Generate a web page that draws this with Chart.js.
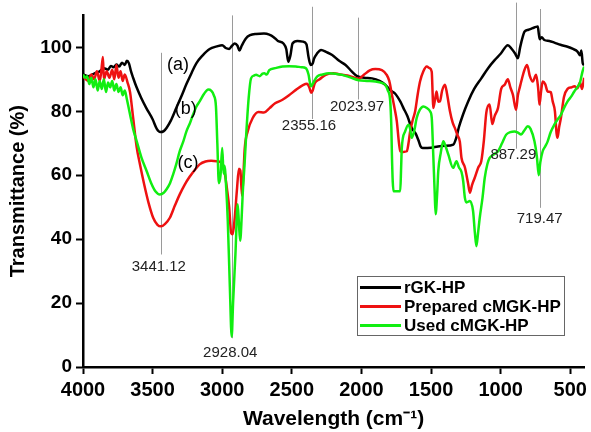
<!DOCTYPE html>
<html>
<head>
<meta charset="utf-8">
<script src="https://cdn.jsdelivr.net/npm/chart.js@4.4.0/dist/chart.umd.min.js"></script>
<style>
html,body{margin:0;padding:0;background:#fff;}
#c{display:block;}
</style>
</head>
<body>
<canvas id="c" width="591" height="432"></canvas>
<script>
// ---------------- DATA ----------------
const seriesNames = ['rGK-HP', 'Prepared cMGK-HP', 'Used cMGK-HP'];

const rgkWave = [4000,3960,3920,3880,3850,3820,3800,3780,3760,3740,3720,3700,3685,3670,3655,3640,3615,3580,3545,3500,3470,3445,3420,3400,3370,3330,3290,3257,3220,3186,3140,3090,3040,3000,2975,2950,2930,2910,2890,2876,2860,2830,2800,2757,2700,2662,2630,2600,2560,2540,2525,2510,2495,2460,2420,2395,2380,2365,2350,2340,2320,2290,2250,2210,2160,2114,2070,2031,1980,1924,1870,1829,1790,1757,1720,1698,1670,1639,1610,1591,1575,1560,1500,1450,1400,1340,1320,1300,1270,1234,1190,1139,1090,1043,1000,948,920,895,876,860,840,829,800,770,745,733,725,718,705,686,650,614,570,519,480,448,430,420,410,400];
const rgkT = [91.5,91.0,91.8,92.5,93.5,93.0,94.2,93.8,94.6,94.0,95.2,94.5,95.8,95.0,92.5,90.5,87.5,84.0,81.0,77.5,74.5,73.5,73.8,74.8,77.0,81.0,85.0,88.5,92.0,95.0,97.5,99.5,100.3,100.7,99.8,99.5,100.5,101.2,100.5,99.0,100.5,102.8,103.8,104.2,104.3,104.0,103.2,102.0,101.2,99.5,95.5,97.5,101.2,102.0,101.8,101.0,97.0,94.5,95.0,96.5,98.0,99.2,98.5,97.6,95.8,94.5,92.5,91.0,90.5,90.3,89.5,88.3,86.5,85.5,83.0,81.0,78.5,74.8,73.0,71.0,69.0,68.5,68.6,69.0,69.2,69.6,71.5,75.0,79.0,83.0,87.0,90.3,93.5,96.0,98.0,100.7,99.5,98.0,96.6,100.0,103.5,104.9,105.5,106.0,106.4,106.5,104.0,102.5,103.2,102.3,102.0,101.5,100.8,100.2,99.5,98.7,97.5,99.0,95.0,94.5];

const prepWave = [4000,3980,3960,3940,3920,3900,3880,3870,3857,3850,3830,3810,3790,3775,3760,3745,3730,3715,3700,3680,3662,3640,3615,3591,3560,3530,3496,3465,3440,3410,3376,3340,3305,3270,3234,3200,3162,3120,3080,3040,3010,2985,2965,2950,2936,2925,2912,2895,2880,2870,2857,2848,2838,2817,2781,2740,2700,2660,2620,2567,2520,2471,2420,2390,2375,2360,2350,2335,2300,2257,2200,2162,2100,2050,2019,1980,1940,1900,1853,1820,1800,1781,1760,1746,1730,1721,1700,1674,1660,1650,1630,1614,1595,1579,1555,1531,1510,1495,1488,1484,1470,1460,1448,1436,1420,1400,1385,1364,1345,1329,1310,1293,1281,1257,1234,1221,1205,1186,1160,1139,1120,1103,1079,1060,1043,1019,996,971,948,930,912,889,876,864,845,829,810,790,769,745,730,721,710,698,680,662,640,626,610,598,591,580,567,545,519,490,470,448,430,415,400];
const prepT = [91.0,90.0,89.5,91.5,90.0,92.5,89.5,92.0,97.0,90.0,92.5,90.5,93.0,90.0,94.5,90.5,92.5,89.5,91.5,89.0,86.0,78.0,69.0,63.4,57.0,51.5,46.7,44.5,44.0,44.8,46.7,50.5,54.0,57.0,59.5,61.5,63.4,64.3,64.5,64.4,64.0,61.5,55.5,50.0,42.0,41.5,45.7,55.0,62.0,61.5,53.5,60.0,68.5,73.7,77.9,79.8,79.6,81.0,82.5,83.6,85.0,86.7,88.2,88.6,87.5,85.8,86.5,88.8,90.0,91.4,91.9,91.6,91.2,90.5,90.2,91.5,92.8,93.2,92.9,91.5,89.5,85.2,80.5,76.9,70.0,67.5,67.3,67.5,70.5,73.7,77.5,80.0,85.5,89.3,92.5,94.0,93.5,92.4,85.0,81.0,84.0,86.2,83.0,83.1,86.5,88.3,85.5,80.0,76.5,74.8,72.5,70.5,65.4,62.5,57.5,54.5,57.0,59.2,62.5,64.4,71.0,79.5,82.1,76.0,78.5,81.0,87.0,88.3,90.0,87.5,85.2,80.5,85.0,87.2,90.5,92.9,94.5,91.0,89.3,91.4,87.0,82.1,86.0,89.3,88.5,86.2,86.0,83.1,80.0,73.0,71.7,75.0,77.9,84.5,87.0,87.5,87.8,87.2,89.0,87.0,90.5];

const usedWave = [4000,3985,3970,3955,3940,3925,3910,3895,3880,3865,3850,3835,3820,3805,3790,3775,3760,3745,3730,3715,3700,3686,3662,3640,3614,3580,3543,3510,3480,3448,3420,3400,3375,3353,3330,3305,3280,3257,3230,3210,3185,3162,3130,3100,3080,3060,3045,3035,3024,3012,3000,2990,2984,2970,2960,2945,2932,2922,2905,2889,2880,2871,2860,2853,2840,2829,2810,2793,2770,2757,2730,2710,2698,2680,2662,2620,2567,2520,2471,2430,2400,2380,2370,2362,2350,2341,2317,2280,2233,2180,2138,2080,2019,1960,1900,1850,1829,1810,1793,1785,1781,1775,1769,1745,1721,1715,1710,1686,1662,1650,1639,1620,1603,1580,1555,1530,1507,1495,1484,1474,1467,1455,1448,1430,1412,1395,1376,1341,1317,1300,1281,1269,1257,1245,1221,1198,1185,1174,1162,1150,1130,1114,1095,1079,1050,1019,990,960,930,900,875,853,830,805,785,757,740,726,715,698,680,662,640,614,590,567,545,519,495,471,450,430,412,400];
const usedT = [91.5,90.5,91.0,88.5,90.5,87.5,90.0,86.5,89.5,87.0,90.0,86.0,89.0,87.5,89.5,86.5,88.5,86.0,87.5,85.0,86.5,84.0,79.0,74.5,70.6,65.5,61.3,57.5,55.0,54.0,54.5,55.6,57.5,60.2,63.5,67.5,70.5,73.7,76.5,78.9,81.5,83.1,85.5,86.8,86.5,85.0,81.5,70.0,57.5,60.0,68.5,60.5,63.0,55.0,45.7,25.0,9.5,20.0,35.3,50.9,45.0,39.5,47.0,54.0,63.0,71.7,84.1,90.3,91.2,91.4,91.0,91.8,91.9,91.5,92.9,93.5,94.0,94.1,94.0,93.8,93.5,91.5,89.0,87.8,88.5,89.3,90.9,91.5,91.9,91.7,91.4,90.6,89.7,89.5,89.3,88.8,88.3,86.5,83.1,75.0,66.5,58.0,55.0,55.0,55.0,62.0,68.5,73.7,75.8,74.5,71.7,74.0,77.9,80.5,81.5,81.0,80.0,78.0,66.5,55.0,47.8,55.0,61.3,67.0,70.6,69.0,66.5,62.3,64.4,62.5,61.0,58.2,53.0,51.5,51.9,48.8,42.0,37.8,42.0,46.7,53.0,59.2,63.5,65.4,66.5,67.5,70.0,72.7,73.5,73.7,73.3,72.7,74.0,75.3,74.5,70.6,66.0,60.0,64.0,67.5,69.0,70.6,73.5,75.8,77.5,78.9,81.0,83.1,84.5,86.2,87.5,89.0,92.4,94.0];

const xTickValues = [4000,3500,3000,2500,2000,1500,1000,500];
const yTickValues = [0,20,40,60,80,100];

const peakWaves  = [3441.12, 2928.04, 2355.16, 2023.97, 887.29, 719.47];
const peakLabels = ['3441.12','2928.04','2355.16','2023.97','887.29','719.47'];
const curveTags  = ['(a)','(b)','(c)'];

// --------------- STYLE / LAYOUT ---------------
const colors = ['#000000', '#ee1111', '#11ee11'];
// per-peak: line from/to (transmittance), label centre (transmittance), label x offset px
const peakLayout = [
  {from: 98.3, to: 35.2, ly: 31.2, dx: -2},
  {from: 110,  to: 9.0,  ly: 4.4,  dx: -2},
  {from: 112.7,to: 77.6, ly: 75.5, dx: -3},
  {from: 109.3,to: 83.7, ly: 81.4, dx: -1},
  {from: 114,  to: 68.3, ly: 66.3, dx: -3},
  {from: 112,  to: 49.8, ly: 46.3, dx: 0}
];
const tagLayout = [{x:3317,y:94.5},{x:3262,y:80.8},{x:3246,y:63.9}];
const FONT = "Arial, 'Liberation Sans', sans-serif";

function zip(xs, ys){ return xs.map((x,i)=>({x:x, y:ys[i]})); }

const datasets = [
  {label: seriesNames[0], data: zip(rgkWave, rgkT), borderColor: colors[0], order: 2},
  {label: seriesNames[1], data: zip(prepWave, prepT), borderColor: colors[1], order: 1},
  {label: seriesNames[2], data: zip(usedWave, usedT), borderColor: colors[2], order: 0}
].map(d => Object.assign(d, {borderWidth: 2.5, pointRadius: 0, fill: false, tension: 0, cubicInterpolationMode: 'monotone'}));

const annotPlugin = {
  id: 'annot',
  beforeDatasetsDraw(chart){
    const ctx = chart.ctx, xs = chart.scales.x, ys = chart.scales.y;
    ctx.save();
    ctx.strokeStyle = '#9a9a9a';
    ctx.lineWidth = 1;
    peakWaves.forEach((w,i)=>{
      const px = Math.round(xs.getPixelForValue(w)) + 0.5;
      ctx.beginPath();
      ctx.moveTo(px, ys.getPixelForValue(peakLayout[i].from));
      ctx.lineTo(px, ys.getPixelForValue(peakLayout[i].to));
      ctx.stroke();
    });
    ctx.restore();
  },
  afterDatasetsDraw(chart){
    const ctx = chart.ctx, xs = chart.scales.x, ys = chart.scales.y;
    ctx.save();
    ctx.fillStyle = '#222';
    ctx.textAlign = 'center';
    ctx.textBaseline = 'middle';
    ctx.font = '15px ' + FONT;
    peakWaves.forEach((w,i)=>{
      ctx.fillText(peakLabels[i], xs.getPixelForValue(w) + peakLayout[i].dx, ys.getPixelForValue(peakLayout[i].ly));
    });
    ctx.font = '18px ' + FONT;
    ctx.fillStyle = '#000';
    curveTags.forEach((t,i)=>{
      ctx.fillText(t, xs.getPixelForValue(tagLayout[i].x), ys.getPixelForValue(tagLayout[i].y));
    });
    // legend
    ctx.fillStyle = '#fff';
    ctx.fillRect(358, 276, 207, 60);
    ctx.strokeStyle = '#666';
    ctx.lineWidth = 1;
    ctx.strokeRect(357.5, 276.5, 207, 59);
    ctx.font = 'bold 17px ' + FONT;
    ctx.textAlign = 'left';
    chart.data.datasets.forEach((d,i)=>{
      const y = 287.5 + i*19;
      ctx.strokeStyle = d.borderColor;
      ctx.lineWidth = 3;
      ctx.beginPath();
      ctx.moveTo(360, y); ctx.lineTo(401, y);
      ctx.stroke();
      ctx.fillStyle = '#000';
      ctx.fillText(d.label, 404, y + 1);
    });
    ctx.restore();
  }
};

new Chart(document.getElementById('c'), {
  type: 'line',
  data: {datasets: datasets},
  options: {
    responsive: false,
    animation: false,
    devicePixelRatio: 1,
    layout: {padding: {left: 0, right: 3, top: 12, bottom: 0}},
    plugins: {legend: {display: false}, tooltip: {enabled: false}},
    scales: {
      x: {
        type: 'linear', reverse: true, min: 400, max: 4000,
        afterBuildTicks: s => { s.ticks = xTickValues.map(v=>({value:v})); },
        afterFit: s => { s.height = 65; },
        grid: {display: true, drawOnChartArea: false, drawTicks: true, tickLength: 7, tickColor: '#000', tickWidth: 2},
        border: {display: true, color: '#000', width: 2.5},
        ticks: {color: '#000', padding: 4, maxRotation: 0, callback: v => String(v), font: {family: FONT, size: 20, weight: 'bold'}},
        title: {display: true, text: 'Wavelength (cm\u207B\u00B9)', color: '#000', padding: {top: 0, bottom: 0}, font: {family: FONT, size: 21, weight: 'bold'}}
      },
      y: {
        type: 'linear', min: 0, max: 110,
        afterBuildTicks: s => { s.ticks = yTickValues.map(v=>({value:v})); },
        afterFit: s => { s.width = 83; },
        grid: {display: true, drawOnChartArea: false, drawTicks: true, tickLength: 7, tickColor: '#000', tickWidth: 2},
        border: {display: true, color: '#000', width: 2.5},
        ticks: {color: '#000', padding: 4, callback: v => String(v), font: {family: FONT, size: 19, weight: 'bold'}},
        title: {display: true, text: 'Transmittance (%)', color: '#000', padding: {top: 6, bottom: 0}, font: {family: FONT, size: 20, weight: 'bold'}}
      }
    }
  },
  plugins: [annotPlugin]
});
</script>
</body>
</html>
